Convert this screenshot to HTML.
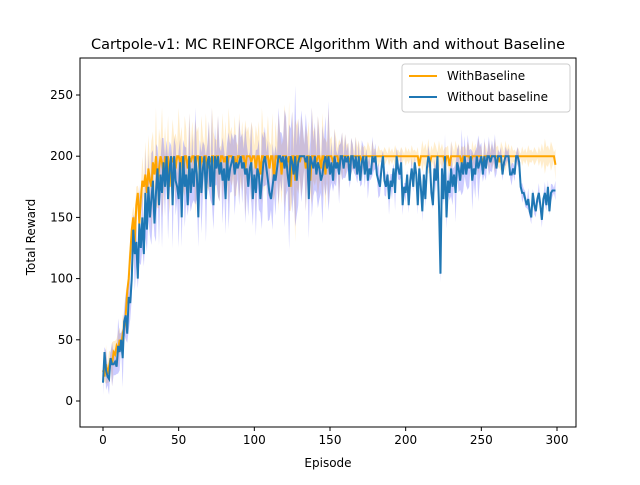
<!DOCTYPE html>
<html><head><meta charset="utf-8"><style>
body{margin:0;background:#fff;font-family:"Liberation Sans","DejaVu Sans",sans-serif}
svg text{font-family:"DejaVu Sans","Liberation Sans",sans-serif}
</style></head><body>
<svg id="c" width="640" height="480" xmlns="http://www.w3.org/2000/svg">
<rect width="640" height="480" fill="#fff"/>
<text x="328" y="49" text-anchor="middle" font-size="14.5">Cartpole-v1: MC REINFORCE Algorithm With and without Baseline</text>
<text x="328" y="467" text-anchor="middle" font-size="12">Episode</text>
<text transform="translate(35,237) rotate(-90)" text-anchor="middle" font-size="12">Total Reward</text>
<g id="bands"></g><g id="lines"></g><g id="axes"></g>
<g>
<rect x="402" y="64" width="168" height="48" rx="3" fill="#fff" fill-opacity="0.8" stroke="#ccc"/>
<line x1="409" y1="76" x2="437" y2="76" stroke="orange" stroke-width="2"/>
<text x="447" y="80" font-size="12">WithBaseline</text>
<line x1="409" y1="97" x2="437" y2="97" stroke="#1f77b4" stroke-width="2"/>
<text x="447" y="101" font-size="12">Without baseline</text>
</g>
</svg>
<script>
const xTicks=[0,50,100,150,200,250,300];
const yTicks=[0,50,100,150,200,250];
const withBaseline=[
25,20,30,22,28,35,30,40,38,45,
42,50,45,55,60,70,90,100,120,140,
150,130,160,170,145,165,180,175,185,170,
190,180,175,195,185,200,175,190,200,195,
185,200,190,200,175,200,195,200,190,200,
200,195,200,185,200,200,190,200,195,200,
200,190,200,200,185,200,195,200,200,190,
200,195,200,200,190,200,200,185,200,200,
195,200,190,200,200,200,195,200,190,200,
200,195,200,200,190,200,200,200,195,200,
200,190,200,200,185,200,200,195,200,200,
190,200,200,180,200,200,195,200,185,200,
200,200,195,200,175,200,200,180,200,200,
195,200,200,200,190,200,200,180,200,200,
200,195,200,200,190,200,200,185,200,200,
200,200,195,200,200,200,190,200,200,200,
200,200,200,195,200,200,200,200,200,200,
200,195,200,200,200,200,200,200,200,200,
200,200,200,200,200,200,200,200,200,200,
200,200,200,200,200,200,200,200,200,200,
200,200,200,200,200,200,200,200,200,192,
200,200,200,200,200,200,194,200,200,200,
200,200,200,200,200,200,193,200,200,192,
200,200,200,200,200,200,200,194,200,200,
200,200,200,195,200,200,200,200,200,200,
200,193,200,200,200,200,200,200,200,200,
200,200,195,200,200,200,200,200,200,200,
200,200,200,200,200,200,200,200,200,200,
200,200,200,200,200,200,200,200,200,200,
200,200,200,200,200,200,200,200,200,193];
const withoutBaseline=[
15,40,25,20,18,35,30,30,32,28,
45,40,50,35,65,70,55,85,80,100,
140,120,130,100,145,125,150,120,170,140,
175,150,165,180,145,170,190,160,185,170,
195,175,200,165,190,200,160,200,180,175,
165,195,150,200,175,185,160,200,170,190,
175,200,185,150,200,170,190,200,165,195,
200,175,200,160,200,190,200,185,195,180,
190,165,200,180,190,195,200,185,195,190,
195,200,190,195,185,190,175,190,195,165,
185,170,190,185,165,180,195,200,190,180,
170,165,175,185,180,190,200,200,195,200,
190,200,185,175,200,195,185,200,180,195,
200,200,200,200,195,200,165,200,195,190,
200,185,195,190,180,185,195,200,190,200,
185,195,180,200,190,195,185,200,200,190,
200,195,200,180,200,200,190,200,185,200,
180,195,200,185,200,180,190,185,200,195,
200,185,180,175,190,200,180,175,185,165,
180,175,190,170,200,190,185,195,160,175,
170,185,160,180,190,175,195,185,160,190,
175,155,185,165,190,200,195,170,160,190,
180,200,160,104,190,165,200,150,180,170,
190,175,185,170,195,190,180,195,185,200,
185,195,190,200,180,190,185,200,190,195,
200,185,200,190,200,200,195,200,200,200,
190,200,200,200,185,195,200,200,200,185,
185,190,185,200,200,195,175,170,170,165,
160,165,155,150,170,160,155,165,170,160,
148,165,170,160,175,155,170,172,172,172];
const withStd=[10,10,15,25,22,22,22,22,22,22,22,22,28,22,22,15,10,8,5,5,5,8,8,8,8,8,8,5,5,8];
const withoutStd=[10,15,20,25,22,22,22,22,22,22,22,22,32,25,25,15,10,10,8,8,5,5,10,15,15,10,5,5,5,5];
const jitter=[1,0.4,1.6,0.7,1.3,0.5,1.8,0.9,1.1,0.6,1.5];
const NS='http://www.w3.org/2000/svg';
const L=80,R=576,T=58,B=427;
const xs=v=>103+(v)*(557-103)/300;
const ys=v=>401-v*(401-95)/250;
function mk(t,a,p){const e=document.createElementNS(NS,t);for(const k in a)e.setAttribute(k,a[k]);p.appendChild(e);return e;}
function band(data,std,col,op,name){
 let up=[],dn=[];
 data.forEach((v,i)=>{const s=(std[Math.floor(i/10)]||5)*jitter[i%11];up.push(xs(i)+','+ys(v+s));dn.unshift(xs(i)+','+ys(v-s));});
 const p=mk('polygon',{points:up.concat(dn).join(' '),fill:col,'fill-opacity':op},document.getElementById('bands'));
 
 
}
band(withBaseline,withStd,'orange',0.2,'withbaseline-band');
band(withoutBaseline,withoutStd,'#3333ff',0.25,'without-baseline-band');
function line(data,col,name){
 const p=mk('polyline',{points:data.map((v,i)=>xs(i)+','+ys(v)).join(' '),fill:'none',stroke:col,'stroke-width':2},document.getElementById('lines'));
 
 
}
line(withBaseline,'orange','withbaseline-line');
line(withoutBaseline,'#1f77b4','without-baseline-line');
const ax=document.getElementById('axes');
const fr=mk('rect',{x:L,y:T,width:R-L,height:B-T,fill:'none',stroke:'#000','stroke-width':1},ax);


xTicks.forEach(t=>{mk('line',{x1:xs(t),x2:xs(t),y1:B,y2:B+4,stroke:'#000'},ax);
 const e=mk('text',{x:xs(t),y:B+17,'text-anchor':'middle','font-size':12},ax);e.textContent=t;
 
 });
yTicks.forEach(t=>{mk('line',{x1:L-4,x2:L,y1:ys(t),y2:ys(t),stroke:'#000'},ax);
 const e=mk('text',{x:L-7,y:ys(t)+4,'text-anchor':'end','font-size':12},ax);e.textContent=t;
 
 });
</script>
</body></html>
